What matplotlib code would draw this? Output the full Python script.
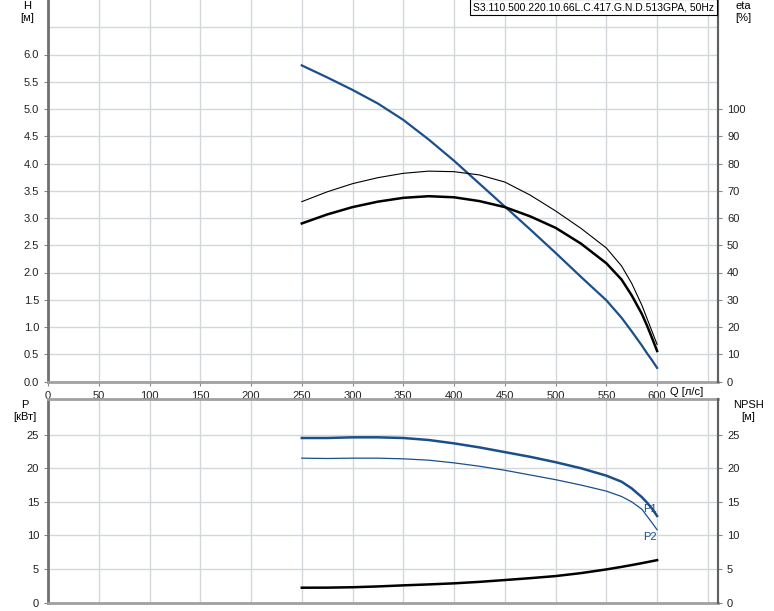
import numpy as np
import matplotlib
matplotlib.use('Agg')
import matplotlib.pyplot as plt

plt.rcParams['font.family'] = ['Liberation Sans', 'DejaVu Sans']
plt.rcParams['font.size'] = 8

# flow [l/s]
q = [250, 275, 300, 325, 350, 375, 400, 425, 450, 475, 500, 525, 550, 565, 575, 585, 590, 595, 600]
# head [m]
head = [5.80, 5.58, 5.35, 5.10, 4.80, 4.44, 4.05, 3.63, 3.21, 2.79, 2.36, 1.92, 1.49,
        1.17, 0.92, 0.66, 0.52, 0.39, 0.25]
# efficiency curves [%]
eta_thin = [66.0, 69.6, 72.6, 74.8, 76.4, 77.2, 77.0, 75.8, 73.2, 68.4, 62.6, 56.2, 49.0,
            42.4, 36.0, 28.0, 23.2, 18.4, 13.6]
eta_thick = [58.0, 61.3, 64.0, 66.0, 67.4, 68.0, 67.6, 66.2, 64.0, 60.6, 56.4, 50.6, 43.4,
             37.4, 31.6, 24.8, 20.6, 16.0, 11.2]
# power [kW]
p1 = [24.5, 24.5, 24.6, 24.6, 24.5, 24.2, 23.7, 23.1, 22.4, 21.7, 20.9, 20.0, 18.9,
      18.0, 17.0, 15.7, 14.9, 14.0, 12.9]
p2 = [21.5, 21.45, 21.5, 21.5, 21.4, 21.2, 20.8, 20.3, 19.7, 19.0, 18.3, 17.5, 16.6,
      15.8, 15.0, 13.9, 12.9, 11.9, 10.85]
# npsh [m]
npsh = [2.23, 2.24, 2.30, 2.42, 2.58, 2.72, 2.88, 3.10, 3.37, 3.65, 3.96, 4.40, 4.95,
        5.33, 5.60, 5.88, 6.03, 6.18, 6.33]

title = 'S3.110.500.220.10.66L.C.417.G.N.D.513GPA, 50Hz'

blue = '#1b4f8a'
grid_c = '#d3d7db'
tick_c = '#888888'

fig = plt.figure(figsize=(7.74, 6.11), dpi=100)

def style(ax):
    ax.set_xlim(0, 660)
    ax.set_xticks(np.arange(0, 601, 50))
    ax.set_xticks([650], minor=True)
    ax.grid(True, which='both', color=grid_c, lw=1.0)
    ax.set_axisbelow(True)
    ax.tick_params(which='major', length=3, color=tick_c, labelcolor='#222222')
    ax.tick_params(which='minor', length=0)
    ax.spines['left'].set_color('#707070')
    ax.spines['left'].set_linewidth(2)
    ax.spines['bottom'].set_color('#a0a0a0')
    ax.spines['bottom'].set_linewidth(2)
    ax.spines['right'].set_color('#606060')
    ax.spines['right'].set_linewidth(1.5)

# top: head + efficiency
ax1 = fig.add_axes([48/774, 1 - 381.5/611, 670/774, 381.5/611])
style(ax1)
ax1.set_ylim(0, 7.0)
ax1.set_yticks(np.arange(0, 6.01, 0.5))
ax1.set_yticks([6.5], minor=True)
ax1.set_yticklabels(['%.1f' % v for v in np.arange(0, 6.01, 0.5)])
ax1.spines['top'].set_visible(False)
ax1.plot(q, head, color=blue, lw=1.6)

ax1r = ax1.twinx()
ax1r.set_ylim(0, 140)
ax1r.set_yticks(np.arange(0, 101, 10))
ax1r.tick_params(length=3, color=tick_c, labelcolor='#222222')
ax1r.spines['right'].set_color('#606060')
ax1r.spines['right'].set_linewidth(1.5)
ax1r.spines['top'].set_visible(False)
ax1r.spines['left'].set_visible(False)
ax1r.spines['bottom'].set_visible(False)
ax1r.plot(q, eta_thin, color='black', lw=0.8)
ax1r.plot(q, eta_thick, color='black', lw=1.8)

# bottom: power + npsh
ax2 = fig.add_axes([48/774, 1 - 602.7/611, 670/774, 203.7/611])
style(ax2)
ax2.set_ylim(0, 30.3)
ax2.set_yticks(np.arange(0, 26, 5))
ax2.tick_params(axis='x', labelbottom=False, length=0)
ax2.spines['top'].set_color('#a0a0a0')
ax2.spines['top'].set_linewidth(2)
ax2.plot(q, p1, color=blue, lw=1.8)
ax2.plot(q, p2, color=blue, lw=0.9)
ax2.plot(q, npsh, color='black', lw=1.8)
ax2.text(586, 14.0, 'P1', color=blue, fontsize=8, va='center')
ax2.text(586, 9.7, 'P2', color=blue, fontsize=8, va='center')

ax2r = ax2.twinx()
ax2r.set_ylim(0, 30.3)
ax2r.set_yticks(np.arange(0, 26, 5))
ax2r.tick_params(length=3, color=tick_c, labelcolor='#222222')
for s in ['top', 'left', 'bottom']:
    ax2r.spines[s].set_visible(False)
ax2r.spines['right'].set_color('#606060')
ax2r.spines['right'].set_linewidth(1.5)

# axis captions
fig.text(27/774, 1 - 6/611, 'H', ha='center', va='center', fontsize=8)
fig.text(27/774, 1 - 18/611, '[м]', ha='center', va='center', fontsize=8)
fig.text(743/774, 1 - 6/611, 'eta', ha='center', va='center', fontsize=8)
fig.text(743/774, 1 - 18/611, '[%]', ha='center', va='center', fontsize=8)
fig.text(687/774, 1 - 392/611, 'Q [л/с]', ha='center', va='center', fontsize=8)
fig.text(25/774, 1 - 405/611, 'P', ha='center', va='center', fontsize=8)
fig.text(25/774, 1 - 417/611, '[кВт]', ha='center', va='center', fontsize=8)
fig.text(748/774, 1 - 405/611, 'NPSH', ha='center', va='center', fontsize=8)
fig.text(748/774, 1 - 417/611, '[м]', ha='center', va='center', fontsize=8)

fig.text(714/774, 1 - 7/611, title, ha='right', va='center', fontsize=7.5,
         bbox=dict(boxstyle='square,pad=0.25', fc='white', ec='black', lw=0.8))

fig.savefig('out.png', dpi=100)
